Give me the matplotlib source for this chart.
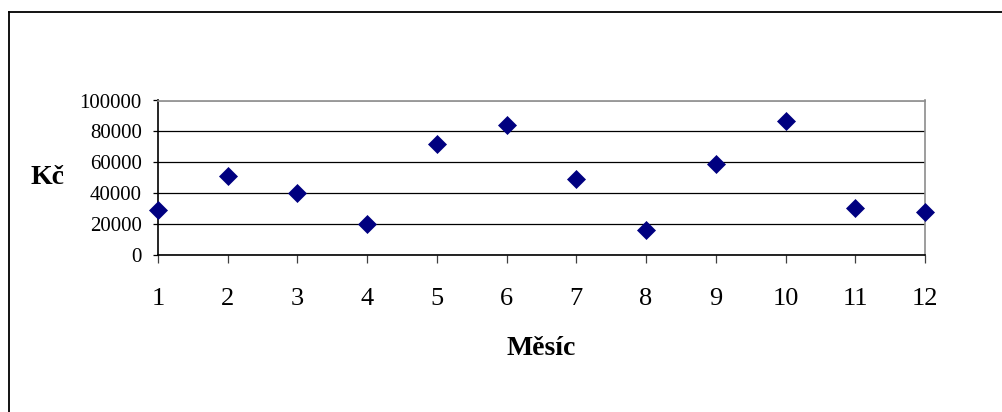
import numpy as np
import matplotlib.pyplot as plt
from matplotlib.lines import Line2D

# monthly values (Kč)
months = [1, 2, 3, 4, 5, 6, 7, 8, 9, 10, 11, 12]
values = [29000, 51000, 40000, 20000, 72000, 84000, 49500, 16000, 59000, 87000, 30700, 28000]
y_ticks = [0, 20000, 40000, 60000, 80000, 100000]

plt.rcParams['font.family'] = ['Liberation Serif', 'DejaVu Serif']

fig = plt.figure(figsize=(10.02, 4.12), dpi=100)
ax = fig.add_axes([158/1002, 1 - 255/412, 767/1002, 154.5/412])

ax.plot(months, values, linestyle='none', marker='D', markersize=8.8,
        color='#000080', markeredgewidth=0.5, clip_on=False, zorder=5)

ax.set_xlim(1, 12)
ax.set_ylim(0, 100000)
ax.set_xticks(months)
ax.set_yticks(y_ticks)
ax.set_yticklabels([str(v) for v in y_ticks])

ax.grid(axis='y', color='black', linewidth=0.9)
ax.set_axisbelow(True)

for s in ['top', 'right']:
    ax.spines[s].set_color('#8c8c8c')
    ax.spines[s].set_linewidth(1.2)
for s in ['left', 'bottom']:
    ax.spines[s].set_color('black')
    ax.spines[s].set_linewidth(1.2)

ax.tick_params(axis='y', direction='out', length=3.6, width=0.9, pad=8, labelsize=15)
ax.tick_params(axis='x', direction='out', length=5.8, width=0.9, pad=18, labelsize=19,
               color='#404040')

ax.set_ylabel('Kč', rotation=0, fontsize=20, fontweight='bold', ha='center', va='center')
ax.yaxis.set_label_coords((48 - 158) / 767, 0.5)
ax.set_xlabel('Měsíc', fontsize=20, fontweight='bold', va='baseline')
ax.xaxis.set_label_coords(0.5, (255 - 355) / 154.5)

# outer chart-area border (top and left edges visible)
fig.add_artist(Line2D([8.5/1002, 1.0], [1 - 11.5/412, 1 - 11.5/412],
                      transform=fig.transFigure, color='black', linewidth=1.3))
fig.add_artist(Line2D([8.5/1002, 8.5/1002], [0.0, 1 - 11.5/412],
                      transform=fig.transFigure, color='black', linewidth=1.3))

fig.savefig('out.png', dpi=100)
